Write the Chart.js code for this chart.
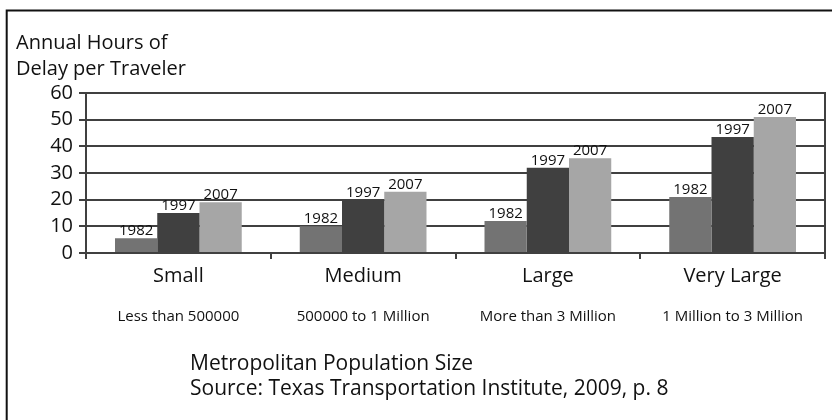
<!DOCTYPE html>
<html>
<head>
<meta charset="utf-8">
<script src="https://cdn.jsdelivr.net/npm/chart.js@4.4.1/dist/chart.umd.min.js"></script>
<style>
  html, body { margin: 0; padding: 0; background: #fff; }
  canvas { display: block; }
</style>
</head>
<body>
<canvas id="c" width="832" height="420"></canvas>
<script>
// ---- data ----
const categories = ['Small', 'Medium', 'Large', 'Very Large'];
const sizeRanges = ['Less than 500000', '500000 to 1 Million', 'More than 3 Million', '1 Million to 3 Million'];
const years = ['1982', '1997', '2007'];
const hours1982 = [5.5, 10, 12, 21];
const hours1997 = [15, 20, 32, 43.5];
const hours2007 = [19, 23, 35.5, 51];
const yTicks = [0, 10, 20, 30, 40, 50, 60];
const titleLines = ['Annual Hours of', 'Delay per Traveler'];
const captionLines = ['Metropolitan Population Size', 'Source: Texas Transportation Institute, 2009, p. 8'];

const FONT = "'Open Sans', sans-serif";
const TEXT = '#111111';
const LINE = '#404040';

const frame = {
  id: 'frame',
  beforeDraw(chart) {
    const ctx = chart.ctx;
    ctx.save();
    ctx.strokeStyle = '#111111';
    ctx.lineWidth = 2;
    ctx.beginPath();
    ctx.moveTo(6.7, 420);
    ctx.lineTo(6.7, 10.5);
    ctx.lineTo(832, 10.5);
    ctx.stroke();
    ctx.restore();
  }
};

const barLabels = {
  id: 'barLabels',
  afterDatasetsDraw(chart) {
    const ctx = chart.ctx;
    ctx.save();
    ctx.font = "15px " + FONT;
    ctx.fillStyle = TEXT;
    ctx.textAlign = 'center';
    ctx.textBaseline = 'alphabetic';
    chart.data.datasets.forEach((ds, i) => {
      chart.getDatasetMeta(i).data.forEach(el => {
        ctx.fillText(ds.label, el.x, el.y - 3);
      });
    });
    ctx.restore();
  }
};

const caption = {
  id: 'caption',
  afterDraw(chart) {
    const ctx = chart.ctx;
    ctx.save();
    ctx.font = "21px " + FONT;
    ctx.fillStyle = TEXT;
    ctx.textAlign = 'left';
    ctx.textBaseline = 'alphabetic';
    ctx.fillText(captionLines[0], 190, 369.5);
    ctx.fillText(captionLines[1], 190, 395);
    ctx.restore();
  }
};

const colors = ['#737373', '#404040', '#a6a6a6'];
const series = [hours1982, hours1997, hours2007];

new Chart(document.getElementById('c'), {
  type: 'bar',
  data: {
    labels: categories,
    datasets: years.map((y, i) => ({
      label: y,
      data: series[i],
      backgroundColor: colors[i],
      borderWidth: 0,
      barPercentage: 1,
      categoryPercentage: 0.686,
      xAxisID: 'x',
      yAxisID: 'y'
    }))
  },
  options: {
    responsive: false,
    animation: false,
    devicePixelRatio: 1,
    layout: { padding: { left: 16, right: 7, top: 0, bottom: 0 } },
    plugins: {
      legend: { display: false },
      tooltip: { enabled: false },
      title: {
        display: true,
        text: titleLines,
        align: 'start',
        color: TEXT,
        font: { family: FONT, size: 20, weight: 'normal', lineHeight: '26px' },
        padding: { top: 30.6, bottom: 10.4 }
      }
    },
    scales: {
      x: {
        type: 'category',
        position: 'bottom',
        weight: 0,
        offset: true,
        grid: {
          display: true,
          offset: true,
          drawOnChartArea: false,
          drawTicks: true,
          tickLength: 6,
          lineWidth: 2,
          color: LINE,
          tickColor: LINE
        },
        border: { display: true, color: LINE, width: 2 },
        ticks: {
          color: TEXT,
          padding: 5,
          maxRotation: 0,
          autoSkip: false,
          font: { family: FONT, size: 20, lineHeight: 1.2 }
        },
        afterFit: s => { s.height = 40; }
      },
      x2: {
        type: 'category',
        axis: 'x',
        position: 'bottom',
        weight: 1,
        offset: true,
        labels: sizeRanges,
        grid: { display: false, drawTicks: false },
        border: { display: false },
        ticks: {
          color: TEXT,
          padding: 14.4,
          maxRotation: 0,
          autoSkip: false,
          font: { family: FONT, size: 15, lineHeight: 1.2 }
        },
        afterFit: s => { s.height = 127; }
      },
      y: {
        type: 'linear',
        position: 'left',
        min: 0,
        max: 60,
        afterBuildTicks: s => { s.ticks = yTicks.map(v => ({ value: v })); },
        grid: {
          color: LINE,
          lineWidth: 2,
          drawTicks: true,
          tickLength: 7,
          tickColor: LINE
        },
        border: { display: true, color: LINE, width: 2 },
        ticks: {
          color: TEXT,
          padding: 6,
          autoSkip: false,
          font: { family: FONT, size: 20 }
        },
        afterFit: s => { s.width = 70; }
      },
      yRight: {
        type: 'linear',
        axis: 'y',
        position: 'right',
        min: 0,
        max: 60,
        grid: { display: false, drawTicks: false },
        border: { display: true, color: LINE, width: 2 },
        ticks: { display: false },
        afterFit: s => { s.width = 0; }
      }
    }
  },
  plugins: [frame, barLabels, caption]
});
</script>
</body>
</html>
